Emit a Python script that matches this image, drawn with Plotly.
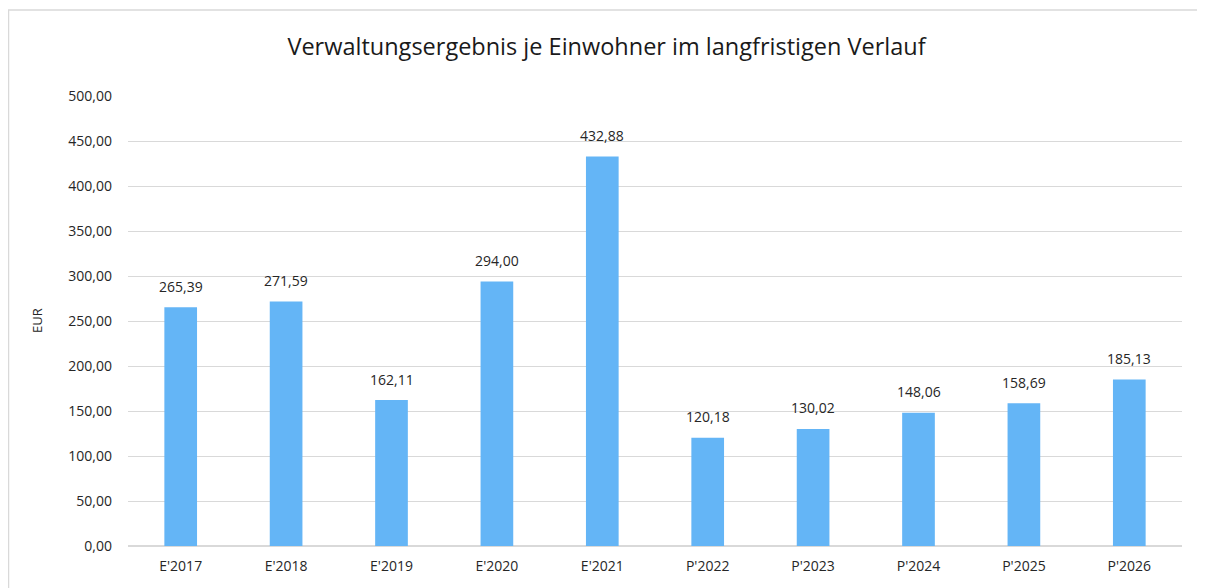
import plotly.graph_objects as go

categories = ["E'2017", "E'2018", "E'2019", "E'2020", "E'2021",
              "P'2022", "P'2023", "P'2024", "P'2025", "P'2026"]
values = [265.39, 271.59, 162.11, 294.00, 432.88,
          120.18, 130.02, 148.06, 158.69, 185.13]
title_text = "Verwaltungsergebnis je Einwohner im langfristigen Verlauf"
y_title = "EUR"

# the page body adds an 8px offset; the figure is sized to compensate
W, H = 1197, 580
L, R, T, B = 120, 23, 88, 42
pw, ph = W - L - R, H - T - B

font_family = "Open Sans, Noto Sans, Liberation Sans, sans-serif"
text_color = "#262626"

fig = go.Figure(go.Bar(
    x=categories, y=values,
    marker=dict(color="#64B5F6", line=dict(width=0)),
    hoverinfo="x+y",
))

for c, v in zip(categories, values):
    fig.add_annotation(x=c, y=v, text=f"{v:.2f}".replace(".", ","),
                       showarrow=False, yanchor="middle", yshift=21,
                       font=dict(size=14, color=text_color, family=font_family))


def px_to_paper_x(px):
    return (px - L) / pw


def px_to_paper_y(py):
    return (H - B - py) / ph


fig.update_layout(
    width=W, height=H,
    margin=dict(l=L, r=R, t=T, b=B),
    paper_bgcolor="white", plot_bgcolor="white",
    separators=",.",
    bargap=0.69,
    showlegend=False,
    title=dict(text=title_text, x=0.5, xref="container", xanchor="center",
               y=1 - 39 / H, yanchor="middle",
               font=dict(size=23.5, color="#1a1a1a", family=font_family)),
    font=dict(family=font_family, color=text_color, size=14),
    xaxis=dict(showgrid=False, showline=False, ticks="",
               ticklabelstandoff=10,
               tickfont=dict(size=14, color=text_color)),
    yaxis=dict(range=[0, 500], dtick=50, tickformat=".2f",
               showgrid=True, gridcolor="#d9d9d9", gridwidth=1,
               zeroline=True, zerolinecolor="#d9d9d9", zerolinewidth=2,
               showline=False, ticks="",
               ticklabelstandoff=15,
               tickfont=dict(size=14, color=text_color)),
    shapes=[dict(type="rect", xref="paper", yref="paper",
                 x0=px_to_paper_x(0.5), x1=px_to_paper_x(1196),
                 y0=px_to_paper_y(610), y1=px_to_paper_y(2),
                 line=dict(color="#d9d9d9", width=1.5), fillcolor="rgba(0,0,0,0)",
                 layer="below")],
    annotations=list(fig.layout.annotations) + [
        dict(text=y_title, xref="paper", yref="paper",
             x=px_to_paper_x(29), y=0.5, xanchor="center", yanchor="middle",
             textangle=-90, showarrow=False,
             font=dict(size=13, color=text_color, family=font_family))],
)
fig.update_yaxes(automargin=False)
fig.update_xaxes(automargin=False)

fig.write_html("out.html")
